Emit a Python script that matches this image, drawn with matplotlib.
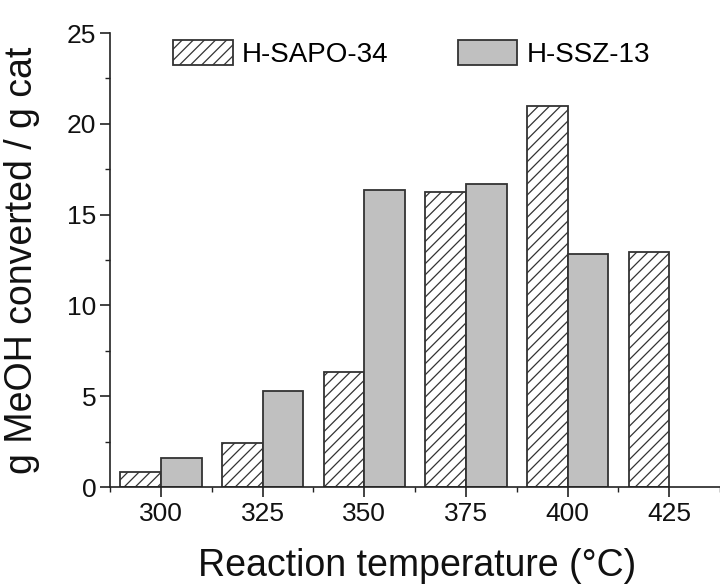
import numpy as np
import matplotlib
matplotlib.use("Agg")
import matplotlib.pyplot as plt
from matplotlib.ticker import MultipleLocator

plt.rcParams['font.family'] = ['Liberation Sans', 'DejaVu Sans']
plt.rcParams['hatch.color'] = '#3a3a3a'
plt.rcParams['hatch.linewidth'] = 0.9

# data
temps = [300, 325, 350, 375, 400, 425]
sapo34 = [0.84, 2.41, 6.35, 16.25, 21.0, 12.96]
ssz13 = [1.58, 5.30, 16.33, 16.67, 12.83, None]

fig = plt.figure(figsize=(7.2, 5.85), dpi=100)
ax = fig.add_axes([0.1528, 0.1675, 0.8472, 0.776])

width = 10
x = np.array(temps)
ax.bar(x, sapo34, width=-width, align='edge', color='white', edgecolor='#333333',
       linewidth=1.3, hatch='///', label='H-SAPO-34')
ssz_x = [t for t, v in zip(temps, ssz13) if v is not None]
ssz_v = [v for v in ssz13 if v is not None]
ax.bar(ssz_x, ssz_v, width=width, align='edge', color='#c0c0c0', edgecolor='#333333',
       linewidth=1.3, label='H-SSZ-13')

ax.set_xlim(287.5, 437.5)
ax.set_ylim(0, 25)
ax.set_xticks(temps)
ax.xaxis.set_minor_locator(MultipleLocator(12.5))
ax.yaxis.set_major_locator(MultipleLocator(5))
ax.yaxis.set_minor_locator(MultipleLocator(2.5))

for s in ['top', 'right']:
    ax.spines[s].set_visible(False)
for s in ['left', 'bottom']:
    ax.spines[s].set_linewidth(1.2)
    ax.spines[s].set_color('#222222')

ax.tick_params(which='major', direction='out', length=7, width=1.2, labelsize=19,
               colors='#222222', labelcolor='#111111')
ax.tick_params(which='minor', direction='out', length=3.6, width=1.0, colors='#222222')
ax.tick_params(axis='x', pad=4)
ax.tick_params(axis='y', pad=3)

ax.set_xlabel('Reaction temperature (\u00b0C)', fontsize=27, color='#111111')
ax.set_ylabel('g MeOH converted / g cat', fontsize=27, color='#111111')
ax.xaxis.set_label_coords(0.503, -0.135)
ax.yaxis.set_label_coords(-0.115, 0.5)

ax.legend(loc='upper left', bbox_to_anchor=(0.2403, 0.9316), bbox_transform=fig.transFigure,
          ncol=2, frameon=False, fontsize=20, handlelength=2.15, handleheight=1.0,
          columnspacing=2.5, handletextpad=0.32, borderpad=0, borderaxespad=0)

fig.savefig('out.png', dpi=100)
